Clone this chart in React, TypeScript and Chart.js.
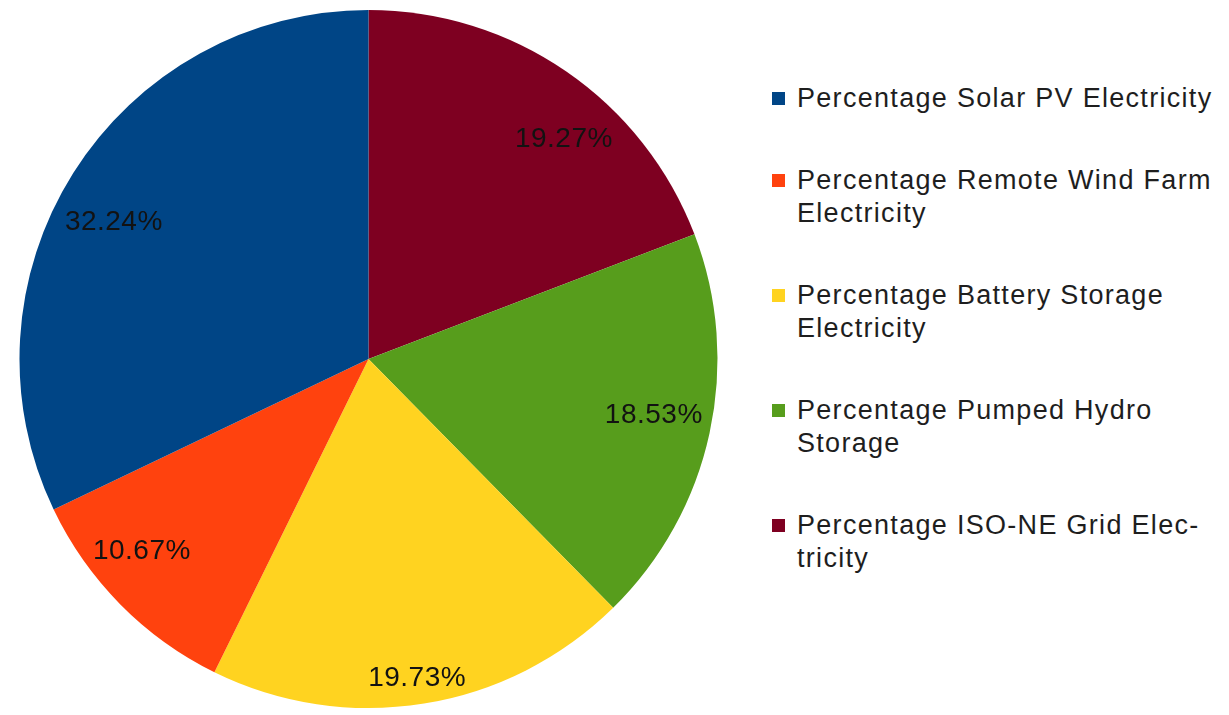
import React, { useEffect, useRef } from "react";
import { Chart, registerables } from "chart.js";

Chart.register(...registerables);

// Legend order (as in the reference)
const categories = [
  "Percentage Solar PV Electricity",
  "Percentage Remote Wind Farm Electricity",
  "Percentage Battery Storage Electricity",
  "Percentage Pumped Hydro Storage",
  "Percentage ISO-NE Grid Electricity",
];
const legendLines = [
  ["Percentage Solar PV Electricity"],
  ["Percentage Remote Wind Farm", "Electricity"],
  ["Percentage Battery Storage", "Electricity"],
  ["Percentage Pumped Hydro", "Storage"],
  ["Percentage ISO-NE Grid Elec-", "tricity"],
];
const values = [32.24, 10.67, 19.73, 18.53, 19.27];
const colors = ["#004586", "#ff420e", "#ffd320", "#579d1c", "#7e0021"];

const FONT = '"Liberation Sans", Arial, sans-serif';

// Labels placed inside the slice near the rim; the box's inner corner/edge sits on the bisecting ray
const labelPlugin = {
  id: "sliceLabels",
  afterDatasetsDraw(chart: any) {
    const ctx = chart.ctx;
    const meta = chart.getDatasetMeta(0);
    const data = chart.data.datasets[0].data as number[];
    ctx.save();
    ctx.font = `28px ${FONT}`;
    try { (ctx as any).letterSpacing = "0.5px"; } catch (e) {}
    ctx.fillStyle = "#121212";
    ctx.textAlign = "center";
    ctx.textBaseline = "middle";
    meta.data.forEach((arc: any, i: number) => {
      const { x, y, startAngle, endAngle, outerRadius } = arc.getProps(
        ["x", "y", "startAngle", "endAngle", "outerRadius"],
        true
      );
      const mid = (startAngle + endAngle) / 2;
      const dx = Math.cos(mid);
      const dy = Math.sin(mid);
      const text = data[i].toFixed(2) + "%";
      const w = ctx.measureText(text).width;
      const h = 24;
      let phi = (-mid * 180) / Math.PI;
      phi = ((phi % 360) + 360) % 360;
      let ax = 0, ay = 0;
      if (phi <= 22.5 || phi >= 337.5) { ax = 1; ay = 0; }
      else if (phi < 67.5) { ax = 1; ay = -1; }
      else if (phi < 112.5) { ax = 0; ay = -1; }
      else if (phi <= 157.5) { ax = -1; ay = -1; }
      else if (phi <= 202.5) { ax = -1; ay = 0; }
      else if (phi < 247.5) { ax = -1; ay = 1; }
      else if (phi < 292.5) { ax = 0; ay = 1; }
      else { ax = 1; ay = 1; }
      const Rc = outerRadius * 0.975;
      let lo = 0, hi = outerRadius;
      for (let k = 0; k < 40; k++) {
        const t = (lo + hi) / 2;
        const cx = dx * t + (ax * w) / 2;
        const cy = dy * t + (ay * h) / 2;
        let m = 0;
        for (const sx of [-1, 1]) for (const sy of [-1, 1]) {
          m = Math.max(m, Math.hypot(cx + (sx * w) / 2, cy + (sy * h) / 2));
        }
        if (m > Rc) hi = t; else lo = t;
      }
      const t = lo;
      ctx.fillText(text, x + dx * t + (ax * w) / 2, y + dy * t + (ay * h) / 2 + 5);
    });
    ctx.restore();
  },
};

export default function App() {
  const ref = useRef<HTMLCanvasElement | null>(null);

  useEffect(() => {
    document.body.style.margin = "0";
    if (!ref.current) return;
    // draw clockwise in reverse order so the slices run counter-clockwise from the top
    const order = [4, 3, 2, 1, 0];
    const chart = new Chart(ref.current, {
      type: "pie",
      data: {
        labels: order.map((i) => categories[i]),
        datasets: [
          {
            data: order.map((i) => values[i]),
            backgroundColor: order.map((i) => colors[i]),
            borderWidth: 0,
          },
        ],
      },
      options: {
        animation: false,
        responsive: false,
        maintainAspectRatio: false,
        layout: { padding: { left: 19, right: 19, top: 10, bottom: 7 } },
        plugins: {
          legend: { display: false },
          tooltip: { enabled: false },
        },
      },
      plugins: [labelPlugin],
    });
    return () => chart.destroy();
  }, []);

  return (
    <div style={{ position: "relative", width: 1229, height: 715, background: "#fff" }}>
      <canvas
        ref={ref}
        width={737}
        height={715}
        style={{ position: "absolute", left: 0, top: 0, width: 737, height: 715 }}
      />
      <div
        style={{
          position: "absolute",
          left: 772,
          top: 82,
          fontFamily: FONT,
          fontSize: 27,
          lineHeight: "33px",
          letterSpacing: "1.3px",
          color: "#1e1e1e",
        }}
      >
        {legendLines.map((lines, i) => (
          <div key={i} style={{ position: "relative", marginBottom: 49, paddingLeft: 25 }}>
            <span
              style={{
                position: "absolute",
                left: 0,
                top: 10,
                width: 13,
                height: 13,
                background: colors[i],
              }}
            />
            {lines.map((l, j) => (
              <div key={j} style={{ whiteSpace: "nowrap" }}>{l}</div>
            ))}
          </div>
        ))}
      </div>
    </div>
  );
}
